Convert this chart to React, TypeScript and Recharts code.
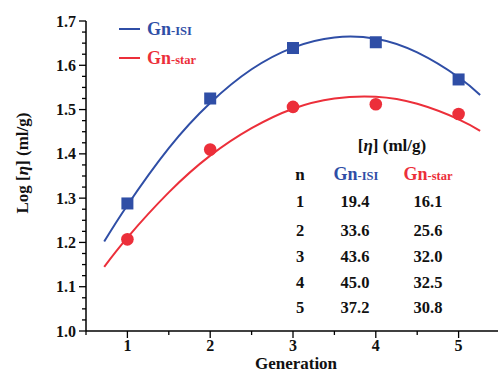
import React from "react";
import { ComposedChart, Line, Scatter, XAxis, YAxis } from "recharts";

// Measured points (log [eta])
const generations = [1, 2, 3, 4, 5];
const isiValues = [1.288, 1.525, 1.639, 1.652, 1.568];
const starValues = [1.207, 1.41, 1.506, 1.512, 1.49];

// Fitted curves
const curveX = [0.72, 1, 1.5, 2, 2.5, 3, 3.5, 4, 4.5, 5, 5.26];
const isiCurve = [1.202, 1.284, 1.413, 1.515, 1.591, 1.64, 1.663, 1.66, 1.629, 1.573, 1.533];
const starCurve = [1.145, 1.211, 1.313, 1.396, 1.458, 1.502, 1.525, 1.529, 1.513, 1.478, 1.452];

// Table
const tableN = ["1", "2", "3", "4", "5"];
const tableIsi = ["19.4", "33.6", "43.6", "45.0", "37.2"];
const tableStar = ["16.1", "25.6", "32.0", "32.5", "30.8"];

const xTicks = [0.5, 1, 1.5, 2, 2.5, 3, 3.5, 4, 4.5, 5, 5.5];
const xLabels = [1, 2, 3, 4, 5];
const yMajor = [1.0, 1.1, 1.2, 1.3, 1.4, 1.5, 1.6, 1.7];
const yTicks: number[] = [];
for (let i = 0; i < yMajor.length; i++) {
  yTicks.push(yMajor[i]);
  if (i < yMajor.length - 1) {
    yTicks.push(+(yMajor[i] + 0.025).toFixed(3), +(yMajor[i] + 0.05).toFixed(3), +(yMajor[i] + 0.075).toFixed(3));
  }
}

const BLUE = "#2F4EA6";
const RED = "#EC2F3A";
const FONT = "Liberation Serif";
const TXT = { fontFamily: FONT, fontWeight: 700 } as const;

const isiPts = generations.map((g, i) => ({ x: g, y: isiValues[i] }));
const starPts = generations.map((g, i) => ({ x: g, y: starValues[i] }));
const isiLine = curveX.map((x, i) => ({ x, y: isiCurve[i] }));
const starLine = curveX.map((x, i) => ({ x, y: starCurve[i] }));

const YTick = (props: any) => {
  const { x, y, payload } = props;
  const v = payload.value;
  const major = yMajor.some((m) => Math.abs(m - v) < 1e-6);
  return (
    <g>
      <line x1={x} x2={x - (major ? 7 : 4)} y1={y} y2={y} stroke="#000" strokeWidth={1.3} />
      {major && (
        <text x={x - 10} y={y} dy="0.35em" textAnchor="end" style={{ ...TXT, fontSize: 16 }} fill="#111">
          {v.toFixed(1)}
        </text>
      )}
    </g>
  );
};

const XTick = (props: any) => {
  const { x, y, payload } = props;
  const v = payload.value;
  const major = xLabels.includes(v);
  return (
    <g>
      <line x1={x} x2={x} y1={y} y2={y + (major ? 7 : 4)} stroke="#000" strokeWidth={1.3} />
      {major && (
        <text x={x} y={y + 20} textAnchor="middle" style={{ ...TXT, fontSize: 16 }} fill="#111">
          {v}
        </text>
      )}
    </g>
  );
};

const Square = (props: any) => {
  const { cx, cy } = props;
  return <rect x={cx - 6} y={cy - 6} width={12} height={12} fill={BLUE} />;
};
const Dot = (props: any) => {
  const { cx, cy } = props;
  return <circle cx={cx} cy={cy} r={6.3} fill={RED} />;
};

export default function App() {
  const rowY = [207, 236, 262, 288, 313];
  return (
    <div style={{ position: "absolute", left: 0, top: 0, width: 498, height: 375, overflow: "hidden", background: "#fff" }}>
      <ComposedChart width={500} height={375} margin={{ top: 21, right: 0, bottom: 0, left: 0 }}>
        <XAxis
          type="number"
          dataKey="x"
          domain={[0.5, 5.5]}
          ticks={xTicks}
          interval={0}
          tickLine={false}
          tickSize={0}
          tickMargin={0}
          height={44}
          axisLine={{ stroke: "#000", strokeWidth: 1.5 }}
          tick={<XTick />}
          allowDataOverflow
        />
        <YAxis
          type="number"
          dataKey="y"
          domain={[1.0, 1.7]}
          ticks={yTicks}
          interval={0}
          width={86}
          tickLine={false}
          tickSize={0}
          tickMargin={0}
          axisLine={{ stroke: "#000", strokeWidth: 1.5 }}
          tick={<YTick />}
          allowDataOverflow
        />
        <Line data={isiLine} dataKey="y" type="natural" stroke={BLUE} strokeWidth={2} dot={false} activeDot={false} isAnimationActive={false} />
        <Line data={starLine} dataKey="y" type="natural" stroke={RED} strokeWidth={2} dot={false} activeDot={false} isAnimationActive={false} />
        <Scatter data={isiPts} dataKey="y" shape={<Square />} isAnimationActive={false} />
        <Scatter data={starPts} dataKey="y" shape={<Dot />} isAnimationActive={false} />
      </ComposedChart>
      <svg width={498} height={375} style={{ position: "absolute", left: 0, top: 0, pointerEvents: "none" }}>
        <g style={TXT}>
          <text x={22} y={163} transform="rotate(-90 22 163)" textAnchor="middle" dy="0.35em" fontSize={17} fill="#111">
            Log [<tspan fontStyle="italic">η</tspan>] (ml/g)
          </text>
          <text x={296} y={369} textAnchor="middle" fontSize={17} fill="#111">Generation</text>

          <line x1={119} x2={140} y1={29} y2={29} stroke={BLUE} strokeWidth={2} />
          <text x={147} y={35} fontSize={18} fill={BLUE}>Gn<tspan fontSize={12.5}>-ISI</tspan></text>
          <line x1={119} x2={140} y1={58} y2={58} stroke={RED} strokeWidth={2} />
          <text x={147} y={64} fontSize={18} fill={RED}>Gn<tspan fontSize={12.5}>-star</tspan></text>

          <text x={392} y={151} textAnchor="middle" fontSize={17} fill="#111">
            [<tspan fontStyle="italic">η</tspan>] (ml/g)
          </text>
          <text x={300} y={180} textAnchor="middle" fontSize={17} fill="#111">n</text>
          <text x={356} y={180} textAnchor="middle" fontSize={18} fill={BLUE}>Gn<tspan fontSize={12.5}>-ISI</tspan></text>
          <text x={428} y={180} textAnchor="middle" fontSize={18} fill={RED}>Gn<tspan fontSize={12.5}>-star</tspan></text>
          {tableN.map((n, i) => (
            <g key={n}>
              <text x={300} y={rowY[i]} textAnchor="middle" fontSize={16.5} fill="#111">{n}</text>
              <text x={355} y={rowY[i]} textAnchor="middle" fontSize={16.5} fill="#111">{tableIsi[i]}</text>
              <text x={428} y={rowY[i]} textAnchor="middle" fontSize={16.5} fill="#111">{tableStar[i]}</text>
            </g>
          ))}
        </g>
      </svg>
    </div>
  );
}
